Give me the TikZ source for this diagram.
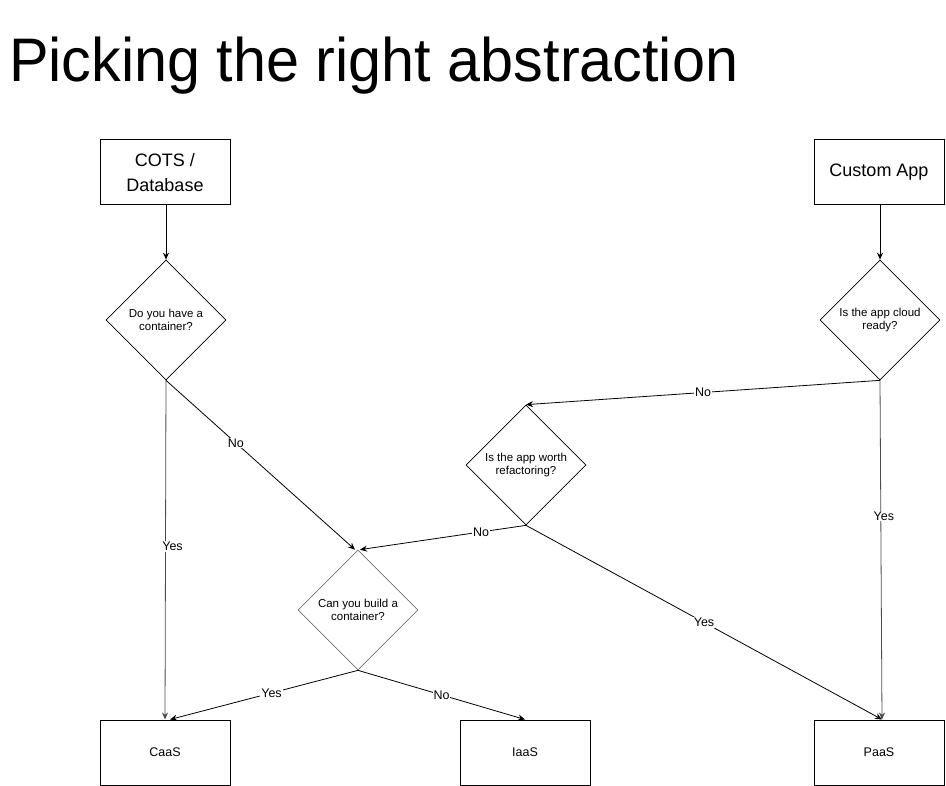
\documentclass[tikz,border=0pt]{standalone}
\usepackage{fontspec}
\setmainfont{Liberation Sans}
\usetikzlibrary{shapes.geometric,arrows.meta}
\tikzset{
  x=1pt,y=-1pt,
  boxnode/.style={draw,line width=1pt,minimum width=130pt,minimum height=65pt,inner sep=0pt,align=center},
  decision/.style={draw,diamond,line width=0.7pt,minimum width=120pt,minimum height=120pt,inner sep=0pt,align=center,font=\fontsize{11.5}{13.5}\selectfont},
  conn/.style={line width=0.8pt,-{Stealth[length=7pt,width=6pt]}},
  elabel/.style={fill=white,inner sep=1pt,font=\fontsize{12.5}{14}\selectfont},
}
\begin{document}
\begin{tikzpicture}
\useasboundingbox (0,0) rectangle (946,786);
\node[anchor=base west,inner sep=0pt,font=\fontsize{61.5}{70}\selectfont] (title) at (9,82) {\scalebox{0.965}[1]{Picking the right abstraction}};

\node[boxnode,font=\fontsize{18}{25}\selectfont] (cots) at (165,172.5) {COTS /\\Database};
\node[boxnode,font=\fontsize{18}{25}\selectfont] (custom) at (879,172.5) {Custom App};

\node[decision] (d1) at (166,320) {Do you have a\\container?};
\node[decision] (d2) at (880,320) {Is the app cloud\\ready?};
\node[decision] (d3) at (526,465) {Is the app worth\\refactoring?};
\node[decision,draw=black!55] (d4) at (358,610) {Can you build a\\container?};

\node[boxnode,font=\fontsize{12.5}{14}\selectfont] (caas) at (165,752.5) {CaaS};
\node[boxnode,font=\fontsize{12.5}{14}\selectfont] (iaas) at (525,752.5) {IaaS};
\node[boxnode,font=\fontsize{12.5}{14}\selectfont] (paas) at (879,752.5) {PaaS};

\draw[conn] (cots.south -| d1.north) -- (d1.north);
\draw[conn] (custom.south -| d2.north) -- (d2.north);

\draw[conn,draw=black!70] (d1.south) -- node[elabel,pos=0.49,xshift=7pt]{Yes} (caas.north);
\draw[conn] (d1.south) -- node[elabel,pos=0.37]{No} ([xshift=-3pt]d4.north);

\draw[conn] (d2.south) -- node[elabel,pos=0.5]{No} (d3.north);
\draw[conn,draw=black!70] (d2.south) -- node[elabel,pos=0.40,xshift=3pt]{Yes} ([xshift=3pt]paas.north);

\draw[conn] (d3.south) -- node[elabel,pos=0.27]{No} ([xshift=2pt]d4.north);
\draw[conn] (d3.south) -- node[elabel,pos=0.5]{Yes} ([xshift=3pt]paas.north);

\draw[conn] (d4.south) -- node[elabel,pos=0.46]{Yes} ([xshift=5pt]caas.north);
\draw[conn] (d4.south) -- node[elabel,pos=0.5]{No} (iaas.north);
\end{tikzpicture}
\end{document}
